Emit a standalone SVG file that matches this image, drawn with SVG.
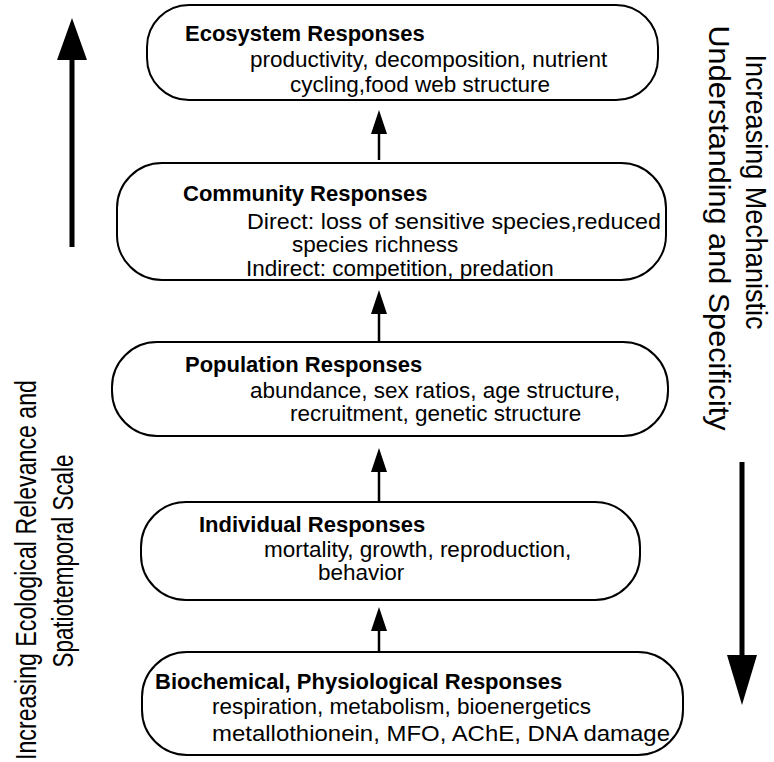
<svg xmlns="http://www.w3.org/2000/svg" width="774" height="762" viewBox="0 0 774 762">
<style>
.box{fill:#fff;stroke:#000;stroke-width:2}
.t{font-family:"Liberation Sans",Arial,sans-serif;font-weight:bold;font-size:22px;fill:#000}
.b{font-family:"Liberation Sans",Arial,sans-serif;font-size:22.5px;fill:#000}
.side{font-family:"Liberation Sans",Arial,sans-serif;font-size:30px;fill:#000}
.shaft{stroke:#000;stroke-width:2.5}
</style>
<rect width="774" height="762" fill="#fff"/>
<g id="connectors">
<line class="shaft" x1="379" y1="160" x2="379" y2="128"/>
<polygon points="379,110 371,134 387,134"/>
<line class="shaft" x1="379" y1="342" x2="379" y2="310"/>
<polygon points="379,290 371,314 387,314"/>
<line class="shaft" x1="379" y1="502" x2="379" y2="468"/>
<polygon points="379,448 371,472 387,472"/>
<line class="shaft" x1="379" y1="652" x2="379" y2="628"/>
<polygon points="379,607 371,631 387,631"/>
</g>
<g id="left-arrow">
<line x1="72" y1="247" x2="72" y2="55" stroke="#000" stroke-width="5"/>
<polygon points="72,18 57,60 87,60"/>
</g>
<g id="right-arrow">
<line x1="742" y1="462" x2="742" y2="660" stroke="#000" stroke-width="5"/>
<polygon points="742,705 727,655 757,655"/>
</g>
<g id="left-label">
<text class="side" transform="translate(36,570) rotate(-90)" text-anchor="middle" textLength="380" lengthAdjust="spacingAndGlyphs">Increasing Ecological Relevance and</text>
<text class="side" transform="translate(73,561) rotate(-90)" text-anchor="middle" textLength="213" lengthAdjust="spacingAndGlyphs">Spatiotemporal Scale</text>
</g>
<g id="right-label">
<text class="side" transform="translate(746,192) rotate(90)" text-anchor="middle" textLength="275" lengthAdjust="spacingAndGlyphs">Increasing Mechanistic</text>
<text class="side" transform="translate(709,228) rotate(90)" text-anchor="middle" textLength="405" lengthAdjust="spacingAndGlyphs">Understanding and Specificity</text>
</g>
<g id="ecosystem">
<rect class="box" x="147" y="5" width="511" height="95" rx="42" ry="42"/>
<text class="t" x="185" y="41">Ecosystem Responses</text>
<text class="b" x="250" y="67">productivity, decomposition, nutrient</text>
<text class="b" x="290" y="92">cycling,food web structure</text>
</g>
<g id="community">
<rect class="box" x="117" y="163" width="549" height="117" rx="45" ry="45"/>
<text class="t" x="183" y="201">Community Responses</text>
<text class="b" x="247" y="229" textLength="414" lengthAdjust="spacingAndGlyphs">Direct: loss of sensitive species,reduced</text>
<text class="b" x="292" y="252">species richness</text>
<text class="b" x="246" y="276">Indirect: competition, predation</text>
</g>
<g id="population">
<rect class="box" x="112" y="342" width="556" height="94" rx="45" ry="45"/>
<text class="t" x="185" y="372">Population Responses</text>
<text class="b" x="250" y="398">abundance, sex ratios, age structure,</text>
<text class="b" x="290" y="421">recruitment, genetic structure</text>
</g>
<g id="individual">
<rect class="box" x="141" y="502" width="499" height="98" rx="45" ry="45"/>
<text class="t" x="199" y="532">Individual Responses</text>
<text class="b" x="264" y="557">mortality, growth, reproduction,</text>
<text class="b" x="318" y="580">behavior</text>
</g>
<g id="biochemical">
<rect class="box" x="142" y="652" width="541" height="103" rx="45" ry="45"/>
<text class="t" x="155" y="689">Biochemical, Physiological Responses</text>
<text class="b" x="212" y="714">respiration, metabolism, bioenergetics</text>
<text class="b" x="212" y="741" textLength="458" lengthAdjust="spacingAndGlyphs">metallothionein, MFO, AChE, DNA damage</text>
</g>
</svg>
